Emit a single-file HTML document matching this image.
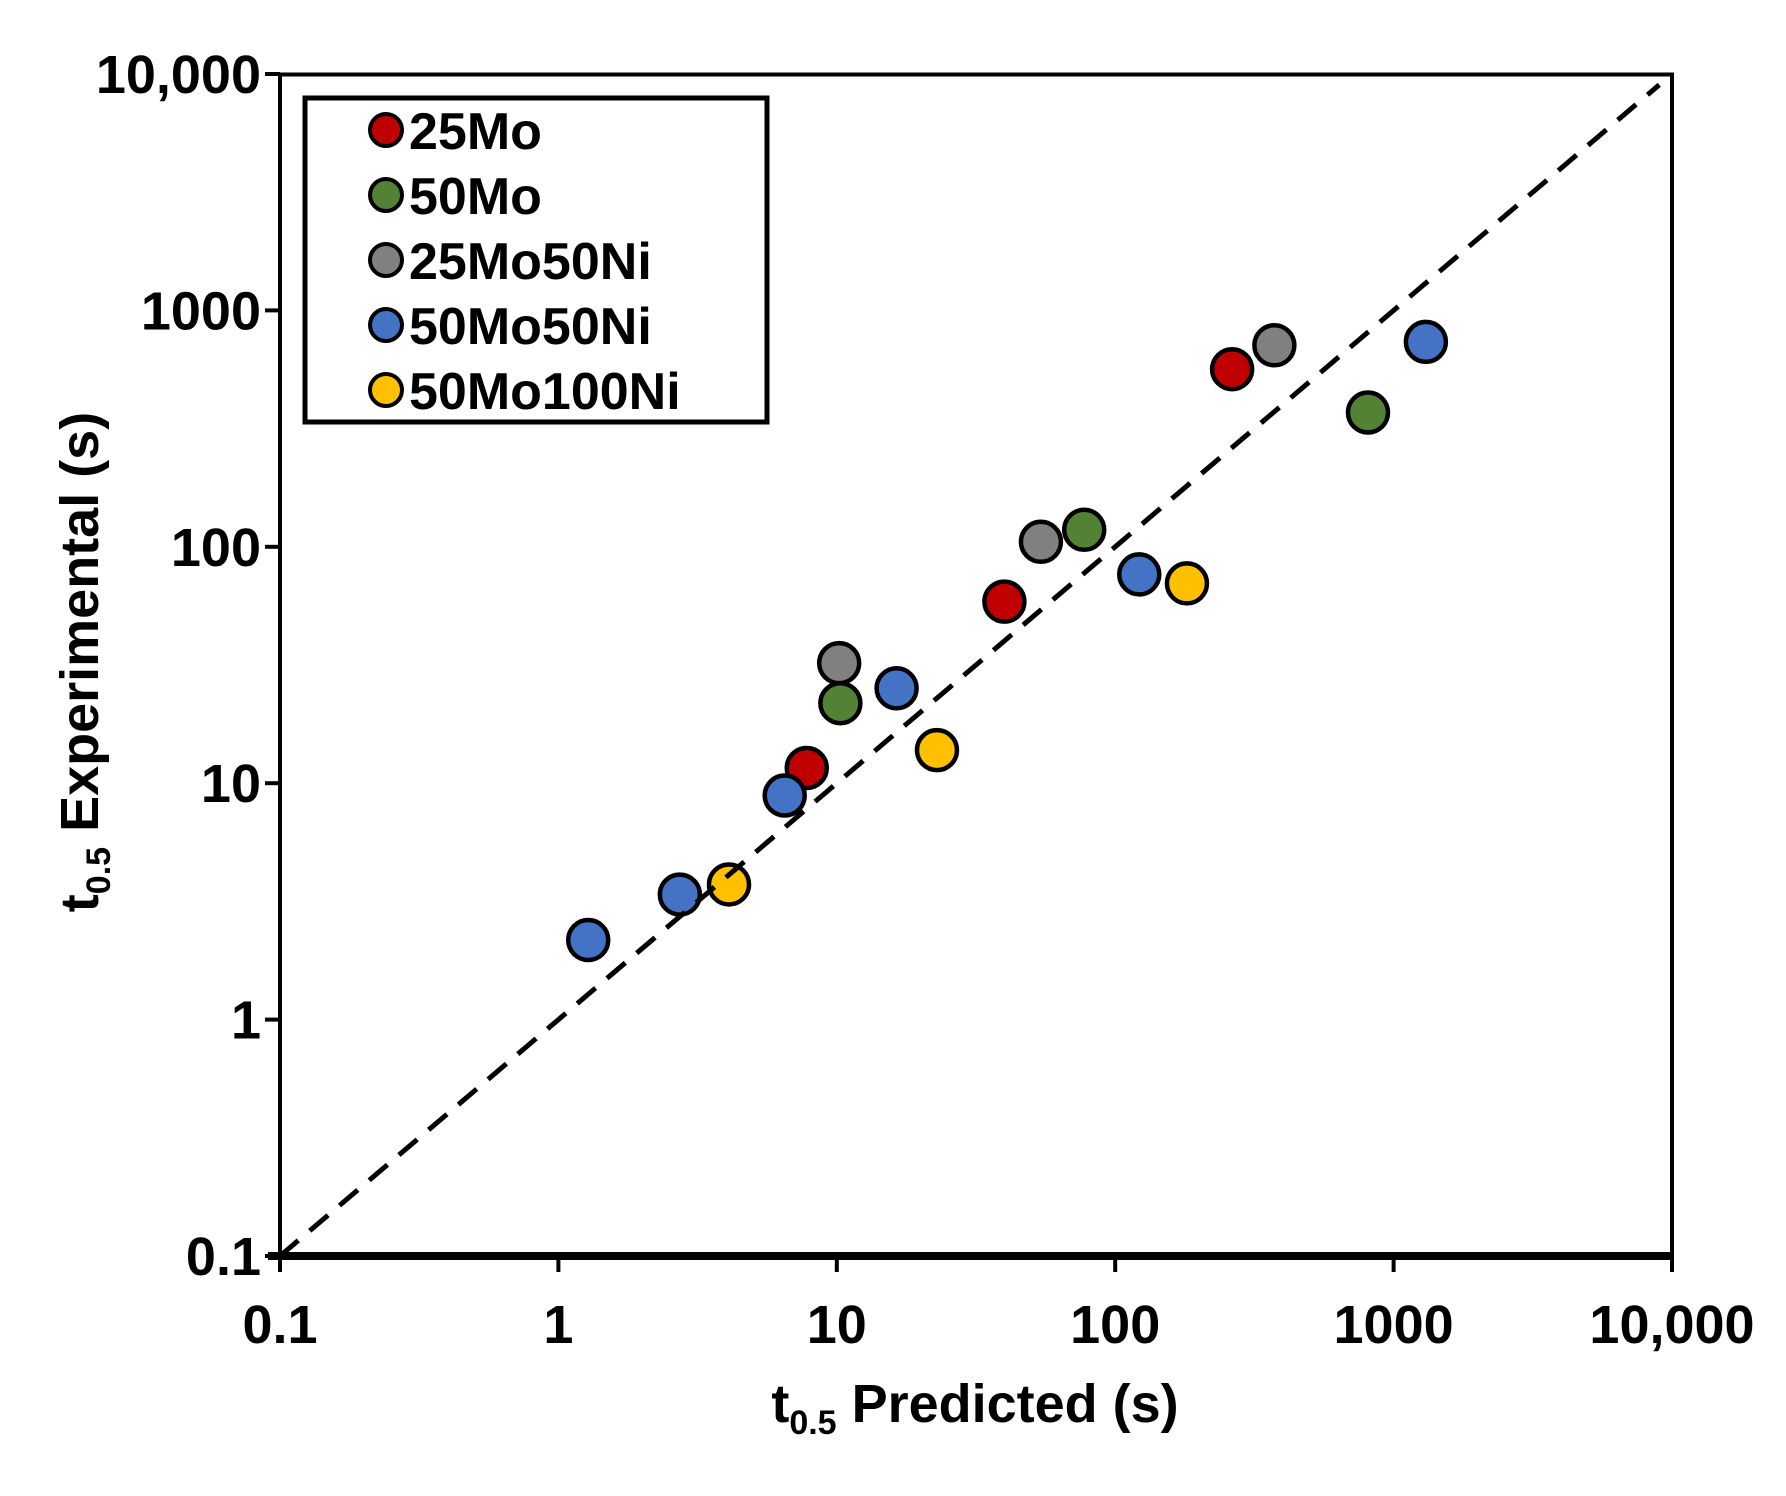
<!DOCTYPE html>
<html><head><meta charset="utf-8"><style>
html,body{margin:0;padding:0;background:#fff;}
svg text{font-family:"Liberation Sans",Arial,sans-serif;font-weight:bold;fill:#000;}
</style></head><body>
<svg id="chart" width="1786" height="1491" viewBox="0 0 1786 1491" xmlns="http://www.w3.org/2000/svg">
<rect x="0" y="0" width="1786" height="1491" fill="#fff"/>
<g id="marks"></g>
<rect x="280" y="74.5" width="1392" height="1181.5" fill="none" stroke="#000" stroke-width="4"/>
<line x1="268" y1="1256" x2="1674" y2="1256" stroke="#000" stroke-width="8"/>
<g id="axes"></g>
<text x="975" y="1422" font-size="54" text-anchor="middle">t<tspan font-size="34" dy="12">0.5</tspan><tspan dy="-12"> Predicted (s)</tspan></text>
<text transform="translate(98,662) rotate(-90)" font-size="54" text-anchor="middle">t<tspan font-size="34" dy="12">0.5</tspan><tspan dy="-12">  Experimental (s)</tspan></text>
<g>
<rect x="305" y="98" width="462" height="324" fill="#fff" stroke="#000" stroke-width="5"/>
<g id="legend-items"></g>
</g>
</svg>
<script>
const seriesNames = ["25Mo","50Mo","25Mo50Ni","50Mo50Ni","50Mo100Ni"];
const seriesColors = ["#C00000","#548235","#808080","#4472C4","#FFC000"];
const predRed = [263, 7.8, 40];
const expRed = [564, 11.6, 58.6];
const predGreen = [809, 77.4, 10.3];
const expGreen = [370, 118, 21.8];
const predGray = [373, 54.1, 10.2];
const expGray = [712, 105, 32.2];
const predBlue = [1306, 122, 16.4, 6.5, 2.73, 1.28];
const expBlue = [736, 76.4, 25.2, 8.87, 3.38, 2.17];
const predYellow = [181, 22.9, 4.1];
const expYellow = [70, 13.8, 3.73];
const xTickValues = [0.1, 1, 10, 100, 1000, 10000];
const xTickLabels = ["0.1","1","10","100","1000","10,000"];
const yTickValues = [0.1, 1, 10, 100, 1000, 10000];
const yTickLabels = ["0.1","1","10","100","1000","10,000"];
const parityLine = [0.1, 9000];

const NS = "http://www.w3.org/2000/svg";
const X0 = 280, X1 = 1672, Y0 = 1256, Y1 = 74;
function xs(v){ return X0 + (Math.log10(v) + 1) / 5 * (X1 - X0); }
function ys(v){ return Y0 - (Math.log10(v) + 1) / 5 * (Y0 - Y1); }
function mk(tag, attrs, parent){ const e = document.createElementNS(NS, tag); for (const k in attrs) e.setAttribute(k, attrs[k]); parent.appendChild(e); return e; }

const axes = document.getElementById('axes');
xTickValues.forEach((v, i) => {
  const t = mk('line', {x1: xs(v), x2: xs(v), y1: 1256, y2: 1272, stroke: '#000', 'stroke-width': 4}, axes);
  
  
  const l = mk('text', {x: xs(v), y: 1343, 'font-size': 54, 'text-anchor': 'middle'}, axes);
  l.textContent = xTickLabels[i];
  
  
});
yTickValues.forEach((v, i) => {
  const t = mk('line', {x1: 265, x2: 280, y1: ys(v), y2: ys(v), stroke: '#000', 'stroke-width': 4}, axes);
  
  
  const l = mk('text', {x: 261, y: ys(v) + 19, 'font-size': 54, 'text-anchor': 'end'}, axes);
  l.textContent = yTickLabels[i];
  
  
});

const marks = document.getElementById('marks');
const series = [[predRed, expRed],[predGreen, expGreen],[predGray, expGray],[predBlue, expBlue],[predYellow, expYellow]];
series.forEach((s, si) => {
  s[0].forEach((xv, i) => {
    const c = mk('circle', {cx: xs(xv), cy: ys(s[1][i]), r: 20, fill: seriesColors[si], stroke: '#000', 'stroke-width': 4.5}, marks);
    
    
  });
});
const pl = mk('line', {x1: xs(parityLine[0]), y1: ys(parityLine[0]), x2: xs(parityLine[1]), y2: ys(parityLine[1]), stroke: '#000', 'stroke-width': 5, 'stroke-dasharray': '24 15'}, marks);



const leg = document.getElementById('legend-items');
seriesNames.forEach((n, i) => {
  const cy = 130 + i * 65;
  const c = mk('circle', {cx: 386, cy: cy, r: 16, fill: seriesColors[i], stroke: '#000', 'stroke-width': 4}, leg);
  
  
  const t = mk('text', {x: 409, y: cy + 19, 'font-size': 52}, leg);
  t.textContent = n;
  
  
});
</script>
</body></html>
